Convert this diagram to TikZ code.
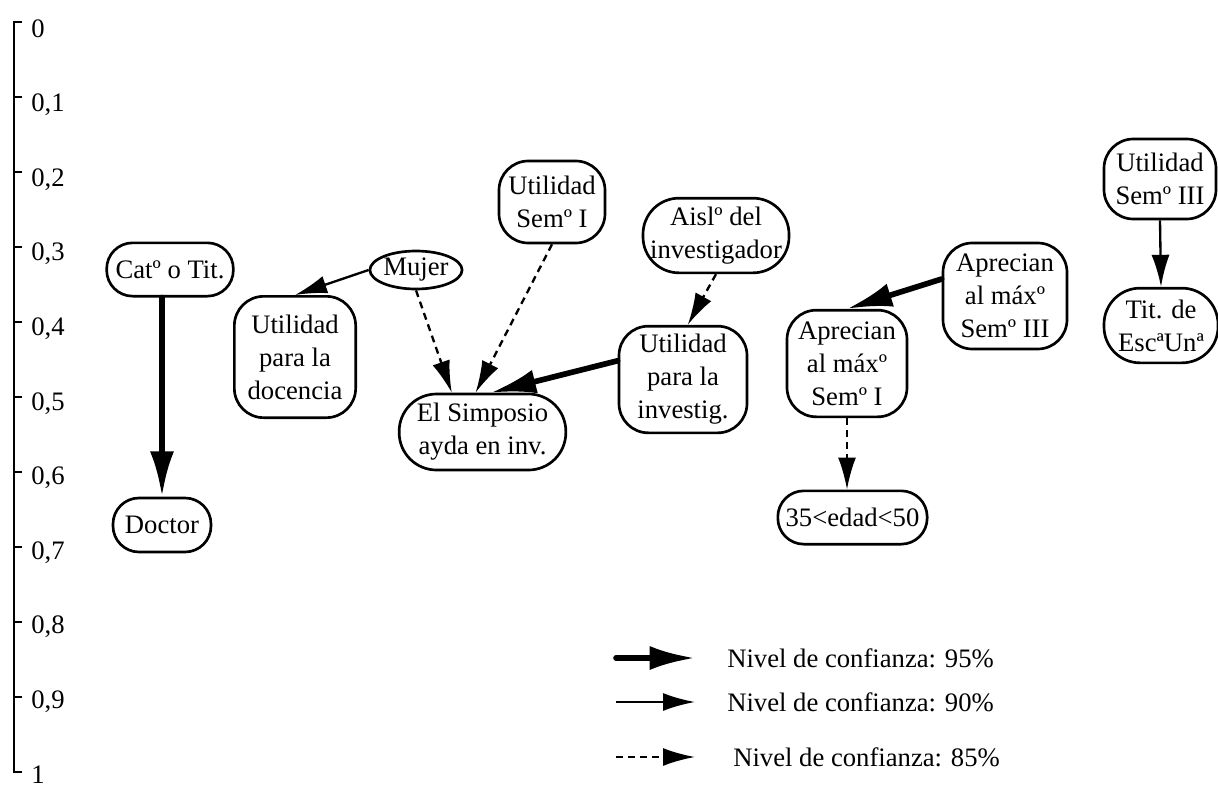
\documentclass[tikz,border=0pt]{standalone}
\usepackage{fontspec}
\setmainfont{Liberation Serif}
\usetikzlibrary{arrows.meta,shapes.geometric}

\tikzset{
  nodo/.style={draw, line width=2pt, align=center, inner sep=0pt,
    rounded corners=22pt, font=\fontsize{20}{24.75}\selectfont},
  pill/.style={nodo, rounded corners=19.5pt},
  elip/.style={nodo, ellipse},
  p95/.style={line width=4.25pt, line cap=round,
    -{Latex[length=34pt,width=18pt]}},
  p90/.style={line width=1.75pt, -{Latex[length=24pt,width=13.5pt]}},
  p85/.style={line width=1.75pt, dash pattern=on 5.25pt off 3.75pt,
    -{Latex[length=24pt,width=13.5pt]}},
}

\begin{document}
\begin{tikzpicture}[x=0.75pt, y=-0.75pt]
  \useasboundingbox (0,0) rectangle (1218,789);

  % escala vertical
  \draw[line width=2pt] (22,22) -- (14,22) -- (14,772) -- (22,772);
  \foreach \i/\t in {0/0, 1/{0,1}, 2/{0,2}, 3/{0,3}, 4/{0,4}, 5/{0,5},
      6/{0,6}, 7/{0,7}, 8/{0,8}, 9/{0,9}, 10/1} {
    \draw[line width=2pt] (14,22+75*\i) -- (22,22+75*\i);
    \node[anchor=base west, inner sep=0pt, font=\fontsize{20}{24}\selectfont]
      (esc\i) at (31,37+74.6*\i) {\t};
  }

  % nodos
  \node[pill, minimum width=95pt, minimum height=40pt] (cat) at (170,269.5) {Catº o Tit.};
  \node[pill, minimum width=73.5pt, minimum height=40.5pt] (doctor) at (162,525) {Doctor};
  \node[nodo, minimum width=91pt, minimum height=91pt] (docencia) at (295,357) {Utilidad\\para la\\docencia};
  \node[elip, minimum width=69pt, minimum height=28.5pt] (mujer) at (416,270) {Mujer};
  \node[nodo, minimum width=79.5pt, minimum height=61.5pt] (semI) at (552,202) {Utilidad\\Semº I};
  \node[pill, rounded corners=27pt, minimum width=109.5pt, minimum height=56pt] (aisl) at (716,235.5) {Aislº del\\investigador};
  \node[nodo, minimum width=96pt, minimum height=80pt] (investig) at (683,379.5) {Utilidad\\para la\\investig.};
  \node[pill, rounded corners=28pt, minimum width=125pt, minimum height=57pt] (simposio) at (482.5,432) {El Simposio\\ayda en inv.};
  \node[nodo, minimum width=90pt, minimum height=80pt] (aprI) at (847,363.5) {Aprecian\\al máxº\\Semº I};
  \node[nodo, minimum width=93pt, minimum height=79.5pt] (aprIII) at (1005,296) {Aprecian\\al máxº\\Semº III};
  \node[pill, minimum width=112pt, minimum height=40pt] (edad) at (852.5,517.5) {35<edad<50};
  \node[nodo, minimum width=84pt, minimum height=60pt] (semIII) at (1160,179) {Utilidad\\Semº III};
  \node[pill, rounded corners=27pt, minimum width=85.5pt, minimum height=56pt] (tit) at (1161,325.5) {Tit. de\\EscªUnª};

  % relaciones
  \draw[p95] (doctor.north |- cat.south) -- (doctor.north);
  \draw[p90] (mujer.west) -- (docencia.north);
  \draw[p85] (mujer.south) -- (simposio.128);
  \draw[p85] (semI.south) -- (simposio.100);
  \draw[p95] (investig.164) -- (simposio.78);
  \draw[p85] (aisl.south) -- (investig.85);
  \draw[p95] (aprIII.165) -- (aprI.north);
  \draw[p85] (aprI.south) -- (aprI.south |- edad.north);
  \draw[p90] (semIII.south) -- (tit.north);

  % leyenda
  \coordinate (s95) at (616,658);
  \coordinate (e95) at (695,658);
  \coordinate (s90) at (616,702);
  \coordinate (e90) at (695,702);
  \coordinate (s85) at (616,757);
  \coordinate (e85) at (695,757);
  \draw[p95] (s95) -- (e95);
  \draw[p90] (s90) -- (e90);
  \draw[p85] (s85) -- (e85);
  \node[anchor=west, inner sep=0pt, font=\fontsize{20}{24}\selectfont] (l95) at (727,658) {Nivel de confianza: 95\%};
  \node[anchor=west, inner sep=0pt, font=\fontsize{20}{24}\selectfont] (l90) at (727,702) {Nivel de confianza: 90\%};
  \node[anchor=west, inner sep=0pt, font=\fontsize{20}{24}\selectfont] (l85) at (733,757) {Nivel de confianza: 85\%};
\end{tikzpicture}
\end{document}
